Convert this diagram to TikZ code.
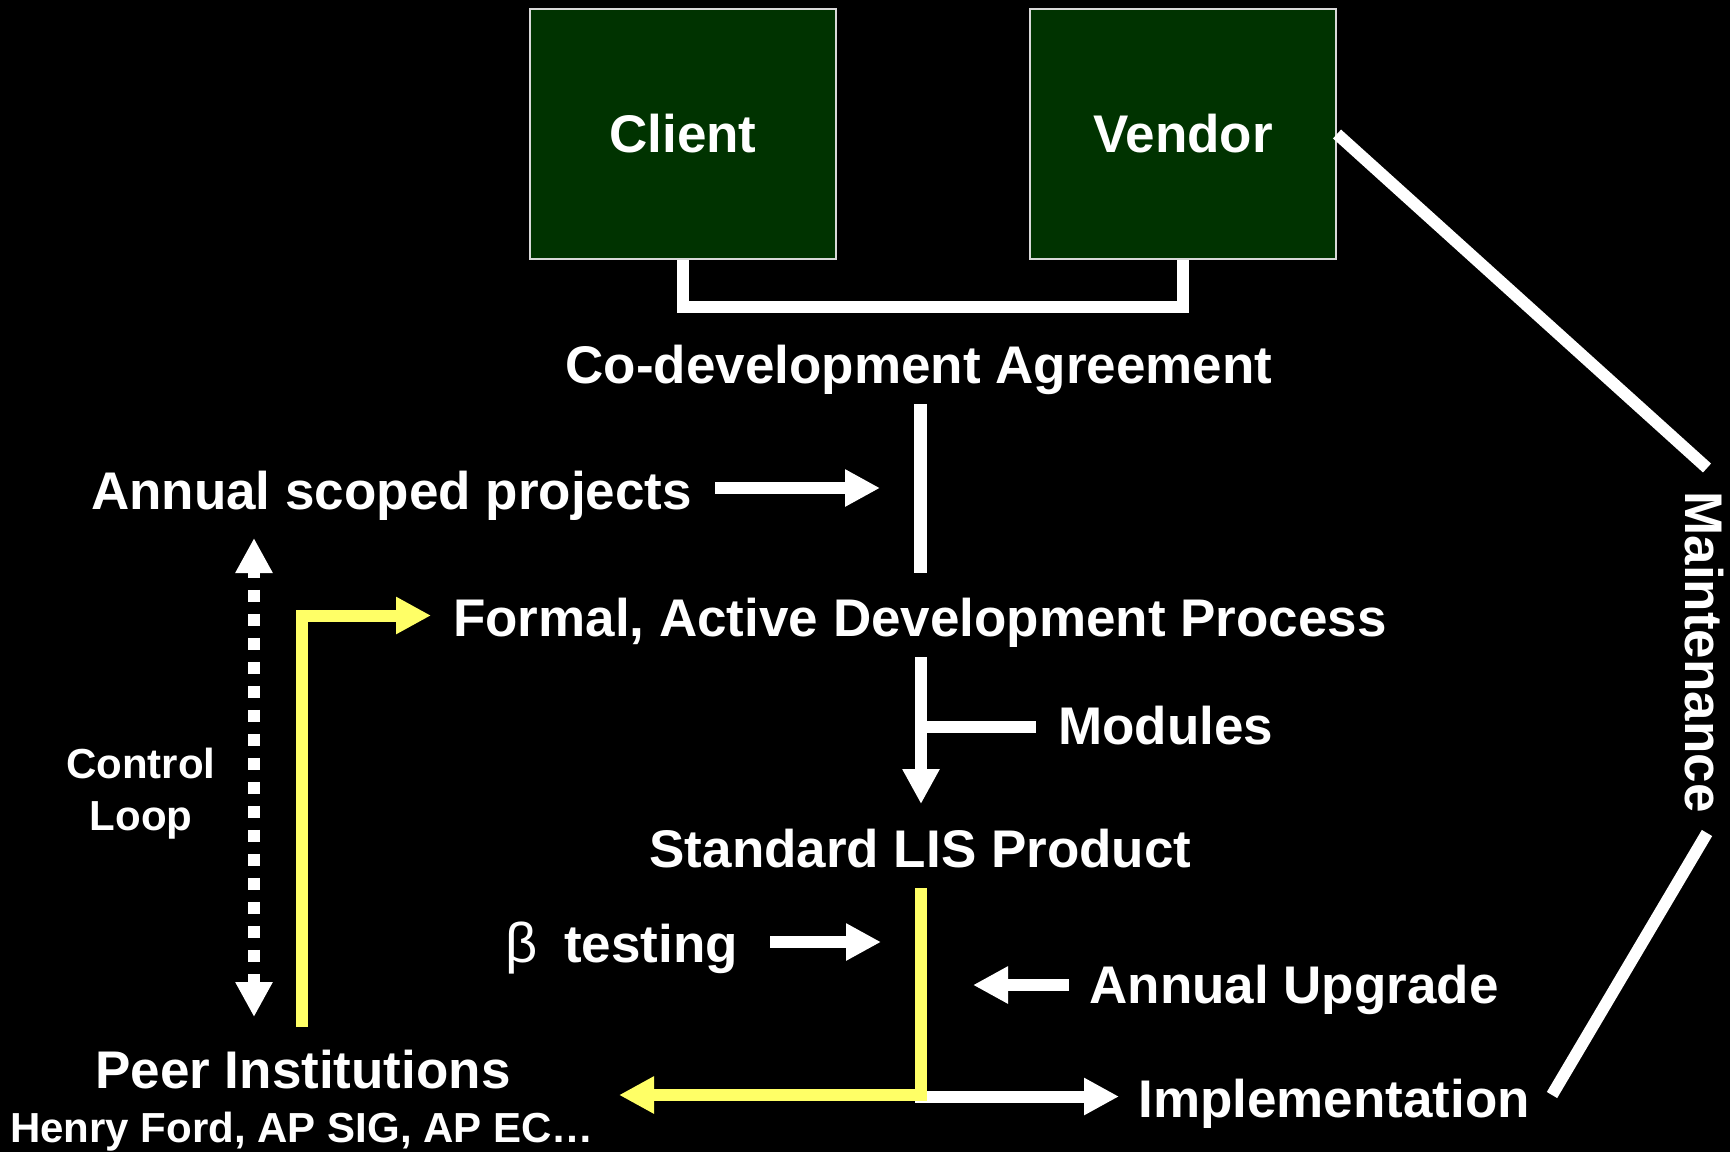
\documentclass[tikz,border=0pt]{standalone}
\usepackage{fontspec}
\setmainfont{Liberation Sans}
\usetikzlibrary{arrows.meta}
\definecolor{boxgreen}{RGB}{0,51,0}
\definecolor{ylw}{RGB}{255,255,102}
\begin{document}
\begin{tikzpicture}[x=0.5pt,y=-0.5pt,
  lbl/.style={text=white,font=\bfseries\fontsize{26.5}{30}\selectfont,inner sep=0pt,anchor=base},
  lblsmall/.style={text=white,font=\bfseries\fontsize{21}{25}\selectfont,inner sep=0pt,anchor=base},
  box/.style={draw=white!85!black,line width=1pt,fill=boxgreen,minimum width=153pt,minimum height=125pt,inner sep=0pt,text=white,font=\bfseries\fontsize{26.5}{30}\selectfont},
  wline/.style={draw=white,line width=6pt},
  yline/.style={draw=ylw,line width=6pt},
  tri/.style={-{Triangle[length=17.5pt,width=17.5pt]}},
  tritri/.style={{Triangle[length=17.5pt,width=17.5pt]}-{Triangle[length=17.5pt,width=17.5pt]}},
]
\fill[black] (0,0) rectangle (1730,1152);

% boxes
\node[box] (client) at (683,134) {Client};
\node[box] (vendor) at (1183,134) {Vendor};
\draw[wline] (client.south) -- (client.south |- 0,307) -| (vendor.south);

% labels
\node[lbl] (coagr) at (919,383) {Co-development Agreement};
\node[lbl] (asp) at (391.5,509) {Annual scoped projects};
\node[lbl] (formal) at (920,636) {Formal, Active Development Process};
\node[lbl,anchor=base west] (modules) at (1058,744) {Modules};
\node[lbl] (lis) at (920.5,867) {Standard LIS Product};
\node[lbl,anchor=base west] (beta) at (505,962) {{\mdseries\fontsize{28}{30}\selectfont β}\hspace{0.5em}testing};
\node[lbl,anchor=base west] (upgrade) at (1089,1003) {Annual Upgrade};
\node[lbl,anchor=base west] (impl) at (1138,1117) {Implementation};
\node[lbl] (peer) at (303,1088) {Peer Institutions};
\node[lblsmall] (henry) at (302,1142) {Henry Ford, AP SIG, AP EC…};
\node[lblsmall] (ctrl1) at (141,778) {Control};
\node[lblsmall] (ctrl2) at (141,830) {Loop};
\node[lbl,rotate=-90] (maint) at (1685,652) {Maintenance};

% coordinates
\coordinate (c1) at (920,404);
\coordinate (c2) at (920,573);
\coordinate (a1s) at (715,488);
\coordinate (a1e) at (880,488);
\coordinate (m1) at (921,657);
\coordinate (m2) at (921,804);
\coordinate (mb1) at (921,727);
\coordinate (mb2) at (1036,727);
\coordinate (y1) at (921,888);
\coordinate (y2) at (921,1095);
\coordinate (y3) at (619,1095);
\coordinate (i1) at (915,1096.5);
\coordinate (i2) at (1119,1096.5);
\coordinate (b1) at (770,942);
\coordinate (b2) at (881,942);
\coordinate (u1) at (1069,985);
\coordinate (u2) at (973,985);
\coordinate (p1) at (302,1027);
\coordinate (p2) at (302,615.5);
\coordinate (p3) at (431,615.5);
\coordinate (d1) at (254,538);
\coordinate (d2) at (254,1017);
\coordinate (mt1) at (1707,468);
\coordinate (mt2) at (1707,833);
\coordinate (mt3) at (1552,1095);

% connectors
\draw[wline,line width=6.5pt] (c1) -- (c2);
\draw[wline,tri] (a1s) -- (a1e);
\draw[wline,tri] (m1) -- (m2);
\draw[wline] (mb1) -- (mb2);
\draw[wline,tri] (i1) -- (i2);
\draw[yline,tri] (y1) -- (y2) -- (y3);
\draw[wline,tri] (b1) -- (b2);
\draw[wline,tri] (u1) -- (u2);
\draw[yline,tri] (p1) -- (p2) -- (p3);
\draw[wline,tritri,dash pattern=on 6pt off 6pt,dash phase=2.5pt] (d1) -- (d2);
\draw[wline] (vendor.east) -- (mt1);
\draw[wline] (mt2) -- (mt3);
\end{tikzpicture}
\end{document}
